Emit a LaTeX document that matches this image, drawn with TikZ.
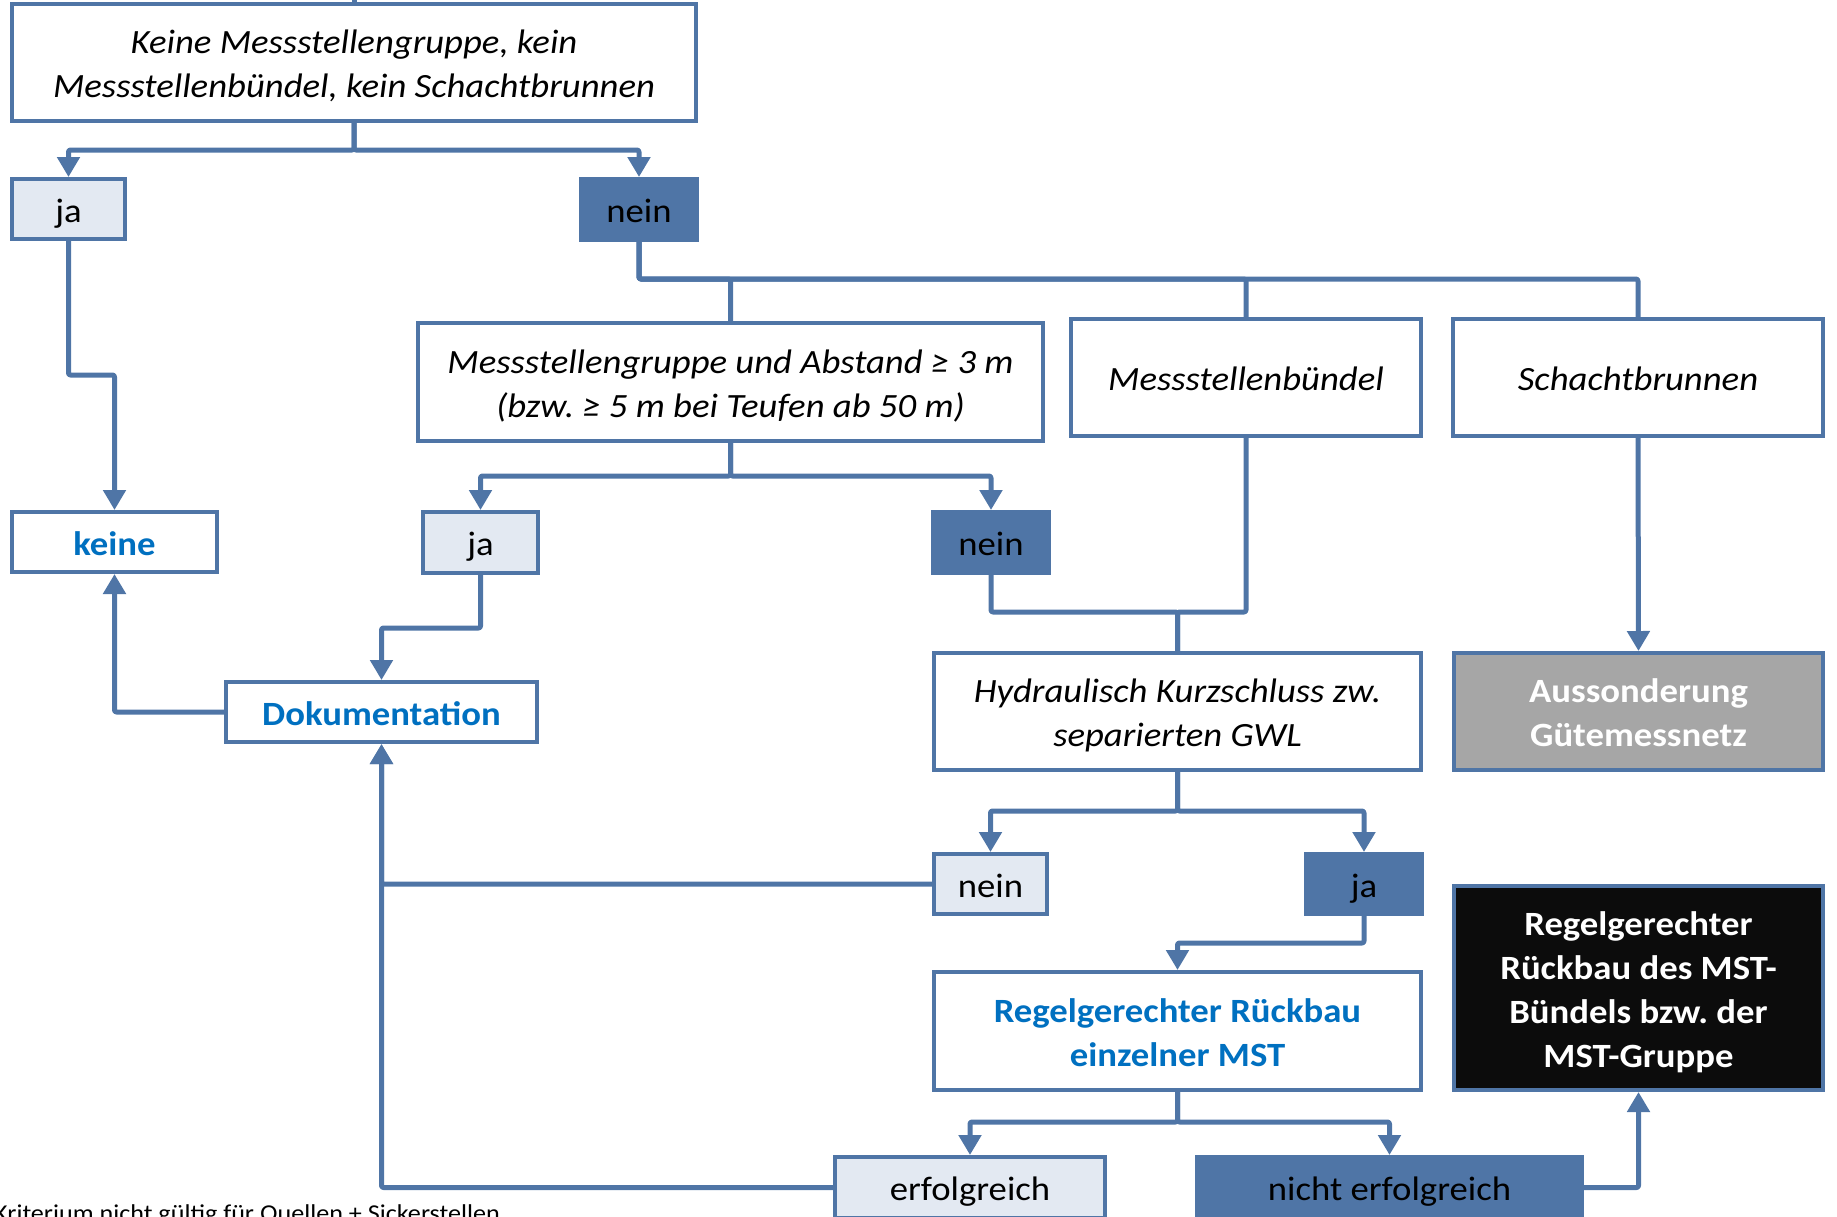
\documentclass[tikz,border=0pt]{standalone}
\usepackage{fontspec}
\setmainfont{Carlito}[FakeStretch=1.08]
\usetikzlibrary{arrows.meta}
\definecolor{bord}{HTML}{4F75A6}
\definecolor{lightf}{HTML}{E3E9F2}
\definecolor{bluet}{HTML}{0070C0}
\definecolor{grayf}{HTML}{A6A6A6}
\definecolor{blackf}{HTML}{0C0C0C}
\newcommand\ms{\rule[-9pt]{0pt}{44pt}}
\frenchspacing
\tikzset{
  box/.style={draw=bord, line width=4pt, inner sep=0pt, align=center, font=\fontsize{34}{44}\selectfont},
  wbox/.style={box, fill=white},
  lbox/.style={box, fill=lightf},
  dbox/.style={box, fill=bord},
  conn/.style={draw=bord, line width=5pt, line join=round, rounded corners=2pt},
  arr/.style={conn, -{Triangle[width=22pt,length=20pt]}},
}
\begin{document}
\frenchspacing
\begin{tikzpicture}[x=1pt,y=-1pt]
\useasboundingbox (0,0) rectangle (1837,1216);
% nodes
\node[wbox, minimum width=684pt, minimum height=117pt] (b1) at (354,62.5) {\ms\itshape Keine Messstellengruppe, kein\\\ms\itshape Messstellenbündel, kein Schachtbrunnen};
\node[lbox, minimum width=113pt, minimum height=60pt] (ja1) at (68.5,209) {\ms ja};
\node[dbox, minimum width=116pt, minimum height=61pt] (nein1) at (639,209.5) {\ms nein};
\node[wbox, minimum width=205pt, minimum height=60pt, text=bluet, font=\fontsize{34}{44}\selectfont\bfseries] (keine) at (114.5,542) {\ms keine};
\node[wbox, minimum width=625pt, minimum height=118pt] (grp) at (730.5,382) {\ms\itshape Messstellengruppe und Abstand ≥ 3 m\\\ms\itshape (bzw. ≥ 5 m bei Teufen ab 50 m)};
\node[wbox, minimum width=350pt, minimum height=117pt] (bund) at (1246,377.5) {\ms\itshape Messstellenbündel};
\node[wbox, minimum width=370pt, minimum height=117pt] (scha) at (1638,377.5) {\ms\itshape Schachtbrunnen};
\node[lbox, minimum width=115pt, minimum height=61pt] (ja2) at (480.5,542.5) {\ms ja};
\node[dbox, minimum width=116pt, minimum height=61pt] (nein2) at (991,542.5) {\ms nein};
\node[wbox, minimum width=311pt, minimum height=60pt, text=bluet, font=\fontsize{34}{44}\selectfont\bfseries] (doku) at (381.5,712) {\ms Dokumentation};
\node[wbox, minimum width=487pt, minimum height=117pt] (hyd) at (1177.5,711.5) {\ms\itshape Hydraulisch Kurzschluss zw.\\\ms\itshape separierten GWL};
\node[box, fill=grayf, minimum width=369pt, minimum height=117pt, text=white, font=\fontsize{34}{44}\selectfont\bfseries] (auss) at (1638.5,711.5) {\ms Aussonderung\\\ms Gütemessnetz};
\node[lbox, minimum width=113pt, minimum height=60pt] (nein3) at (990.5,884) {\ms nein};
\node[dbox, minimum width=116pt, minimum height=60pt] (ja3) at (1364,884) {\ms ja};
\node[wbox, minimum width=487pt, minimum height=118pt, text=bluet, font=\fontsize{34}{44}\selectfont\bfseries] (regel) at (1177.5,1031) {\ms Regelgerechter Rückbau\\\ms einzelner MST};
\node[box, fill=blackf, minimum width=369pt, minimum height=204pt, text=white, font=\fontsize{34}{44}\selectfont\bfseries] (blk) at (1638.5,988) {\ms Regelgerechter\\\ms Rückbau des MST-\\\ms Bündels bzw. der\\\ms MST-Gruppe};
\node[lbox, minimum width=270pt, minimum height=61pt] (erf) at (970,1187.5) {\ms erfolgreich};
\node[dbox, minimum width=385pt, minimum height=61pt] (nerf) at (1389.5,1187.5) {\ms nicht erfolgreich};
\node[anchor=base west, inner sep=0pt, font=\fontsize{24.2}{28}\selectfont] (note) at (-6,1221) {Kriterium nicht gültig für Quellen + Sickerstellen};
% connectors
\coordinate (top) at (354,-10);
\draw[conn] (b1.north) -- (top);
\draw[arr] (b1.south) -- (b1.south |- 0,150) -| (ja1.north);
\draw[arr] (b1.south) -- (b1.south |- 0,150) -| (nein1.north);
\draw[arr] (ja1.south) -- (ja1.south |- 0,375) -| (keine.north);
\draw[conn] (nein1.south) -- (nein1.south |- 0,279) -| (grp.north);
\draw[conn] (nein1.south) -- (nein1.south |- 0,279) -| (bund.north);
\draw[conn] (nein1.south) -- (nein1.south |- 0,279) -| (scha.north);
\draw[arr] (grp.south) -- (grp.south |- 0,476) -| (ja2.north);
\draw[arr] (grp.south) -- (grp.south |- 0,476) -| (nein2.north);
\draw[arr] (ja2.south) -- (ja2.south |- 0,628) -| (doku.north);
\draw[arr] (doku.west) -| (keine.south);
\draw[conn] (nein2.south) -- (nein2.south |- 0,612) -| (hyd.north);
\draw[conn] (bund.south) -- (bund.south |- 0,612) -| (hyd.north);
\draw[arr] (scha.south) -- (auss.north);
\draw[arr] (hyd.south) -- (hyd.south |- 0,811) -| (nein3.north);
\draw[arr] (hyd.south) -- (hyd.south |- 0,811) -| (ja3.north);
\draw[arr] (nein3.west) -| (doku.south);
\draw[arr] (erf.west) -| (doku.south);
\draw[arr] (ja3.south) -- (ja3.south |- 0,943) -| (regel.north);
\draw[arr] (regel.south) -- (regel.south |- 0,1122) -| (erf.north);
\draw[arr] (regel.south) -- (regel.south |- 0,1122) -| (nerf.north);
\draw[arr] (nerf.east) -| (blk.south);
\end{tikzpicture}
\end{document}
